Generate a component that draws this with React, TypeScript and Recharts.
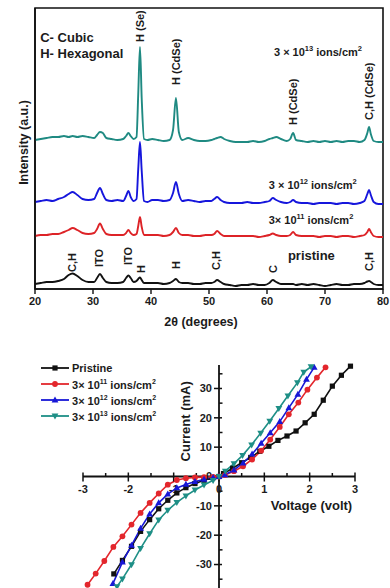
import React from "react";
import {
  Legend,
  Line,
  LineChart,
  ReferenceArea,
  ReferenceDot,
  ReferenceLine,
  XAxis,
  YAxis
} from "recharts";

const FONT = "'Liberation Sans', Arial, Helvetica, sans-serif";
const INK = "#1b1b1b";

// ---------- XRD (top panel) ----------
const twoTheta = [
  20, 21, 22, 23, 24, 25,
  25.8, 26.5, 27.3, 28.2, 29.2, 30.2,
  30.7, 31.2, 31.7, 32.3, 33.2, 34.2,
  35.2, 35.7, 36.1, 36.5, 37.0, 37.5,
  37.8, 38.1, 38.4, 38.8, 39.4, 40.2,
  41.2, 42.2, 43.2, 43.8, 44.3, 44.8,
  45.4, 46.4, 47.4, 48.4, 49.4, 50.4,
  50.9, 51.4, 52.0, 52.6, 53.6, 54.6,
  55.6, 56.6, 57.6, 58.6, 59.6, 60.4,
  61.0, 61.6, 62.4, 63.4, 64.0, 64.5,
  65, 66, 67, 68, 69, 70,
  71, 72, 73, 74, 75, 76,
  76.8, 77.3, 77.6, 77.9, 78.4, 79.2,
  80
];

const ions13 = [
  149, 150, 151, 152, 152, 153,
  152, 153, 152, 153, 152, 151,
  154, 157, 156, 151, 150, 149,
  150, 153, 156, 153, 150, 152,
  195, 242, 190, 150, 149, 150,
  149, 148, 149, 159, 191, 157,
  149, 151, 149, 148, 148, 149,
  150, 151, 152, 150, 148, 147,
  147, 147, 148, 147, 148, 150,
  151, 152, 150, 148, 150, 156,
  149, 148, 147, 148, 147, 148,
  147, 148, 147, 148, 148, 147,
  149, 156, 162, 155, 148, 147,
  147
];

const ions12 = [
  87, 88, 89, 88, 90, 92,
  95, 97, 94, 90, 89, 90,
  96, 101, 95, 89, 88, 89,
  88, 93, 98, 92, 88, 90,
  120, 147, 118, 88, 87, 89,
  89, 88, 89, 96, 107, 95,
  88, 89, 88, 87, 88, 88,
  90, 92, 89, 87, 86, 86,
  86, 87, 86, 86, 87, 88,
  91, 89, 87, 86, 87, 89,
  87, 86, 86, 85, 86, 86,
  86, 85, 86, 86, 85, 86,
  88, 95, 99, 94, 87, 85,
  85
];

const ions11 = [
  53, 54, 54, 55, 55, 57,
  59, 61, 59, 56, 55, 56,
  60, 65.5, 60, 55, 54, 54,
  54, 56, 59, 56, 54, 55,
  63, 72, 62, 54, 54, 54,
  54, 53, 54, 57, 61, 56,
  54, 54, 53, 53, 54, 54,
  55, 58, 55, 53, 53, 53,
  53, 53, 53, 52, 53, 54,
  55.5, 54, 53, 53, 54, 57,
  54, 53, 53, 53, 52, 53,
  53, 52, 53, 53, 52, 53,
  54, 57, 60, 57, 53, 52,
  52
];

const pristineXrd = [
  5, 6, 7, 7, 8, 10,
  14, 15.5, 13, 9, 7, 7,
  11, 15, 11, 7, 6, 6,
  7, 11, 13.5, 11, 7, 8,
  10, 11.5, 9, 6, 6, 6,
  6, 5, 6, 8, 10, 7,
  6, 6, 5, 5, 6, 6,
  7, 9, 7, 5, 4, 3,
  4, 4, 5, 4, 4, 6,
  9, 7, 5, 5, 5, 5,
  4, 5, 4, 5, 4, 3,
  4, 5, 4, 4, 5, 5,
  6, 7.5, 8, 7, 5, 4,
  4
];

const xrdTicks = [20, 30, 40, 50, 60, 70, 80];

// peak assignments: 2θ position, intensity level where the text starts
const peakTags = [
  { at: 38.1, level: 247, text: "H (Se)" },
  { at: 44.3, level: 204, text: "H (CdSe)" },
  { at: 64.5, level: 164, text: "H (CdSe)" },
  { at: 77.6, level: 169, text: "C,H (CdSe)" },
  { at: 26.4, level: 17, text: "C,H" },
  { at: 31.1, level: 22, text: "ITO" },
  { at: 36.1, level: 24, text: "ITO" },
  { at: 38.3, level: 16, text: "H" },
  { at: 44.3, level: 20, text: "H" },
  { at: 51.3, level: 19, text: "C,H" },
  { at: 61.0, level: 16, text: "C" },
  { at: 77.6, level: 18, text: "C,H" }
];

const xrdRows = twoTheta.map((t, k) => ({
  t,
  pristine: pristineXrd[k],
  i11: ions11[k],
  i12: ions12[k],
  i13: ions13[k]
}));

// ---------- I-V (bottom panel) ----------
const pristineV = [-2.32, -2.13, -1.93, -1.73, -1.53, -1.33, -1.13, -0.93, -0.73, -0.53, -0.33, -0.13, 0, 0.1, 0.3, 0.5, 0.7, 0.9, 1.1, 1.3, 1.5, 1.7, 1.9, 2.1, 2.3, 2.5, 2.7, 2.9];
const pristineI = [-33.2, -28.6, -23.8, -18.7, -14.7, -11.0, -8.1, -5.6, -3.8, -2.4, -1.3, -0.4, 0, 1.0, 2.8, 4.7, 6.5, 8.6, 10.3, 12.3, 13.8, 15.5, 18.3, 21.2, 26.0, 30.8, 34.5, 37.6];

const e11V = [-2.9, -2.72, -2.53, -2.33, -2.13, -1.93, -1.73, -1.53, -1.33, -1.13, -0.93, -0.73, -0.53, -0.33, -0.13, 0, 0.13, 0.33, 0.53, 0.73, 0.93, 1.13, 1.34, 1.54, 1.75, 1.95, 2.16, 2.35];
const e11I = [-36.9, -33.1, -28.8, -24.0, -20.4, -16.4, -12.4, -9.0, -5.8, -2.8, -1.2, -0.6, -0.3, -0.2, -0.1, 0, 0.5, 1.8, 3.5, 5.8, 8.8, 12.6, 16.9, 21.2, 25.2, 29.6, 33.7, 37.2];

const e12V = [-2.34, -2.13, -1.93, -1.73, -1.53, -1.33, -1.13, -0.93, -0.73, -0.53, -0.33, -0.13, 0, 0.13, 0.33, 0.53, 0.73, 0.93, 1.13, 1.34, 1.54, 1.74, 1.93, 2.1];
const e12I = [-36.5, -29.2, -23.5, -17.7, -12.8, -9.0, -6.0, -3.9, -2.7, -1.7, -1.0, -0.4, 0, 0.6, 2.2, 4.6, 7.6, 11.3, 14.9, 18.7, 23.4, 28.0, 33.1, 37.2];

const e13V = [-2.25, -2.13, -1.93, -1.73, -1.53, -1.33, -1.13, -0.93, -0.73, -0.53, -0.33, -0.13, 0, 0.14, 0.33, 0.52, 0.72, 0.92, 1.12, 1.32, 1.52, 1.73, 1.87, 2.03];
const e13I = [-37.5, -34.9, -30.0, -24.5, -19.5, -14.8, -11.5, -8.8, -6.6, -4.6, -2.9, -1.3, 0, 1.8, 4.4, 7.2, 10.8, 14.8, 18.9, 23.2, 27.5, 32.0, 35.6, 37.4];

const ivXTicks = [-3, -2, -1, 0, 1, 2, 3];
const ivXMinor = [-2.5, -1.5, -0.5, 0.5, 1.5, 2.5];
const ivYTicks = [-30, -20, -10, 10, 20, 30];
const ivYMinor = [-35, -25, -15, -5, 5, 15, 25, 35];
const ivYLabels = [-30, -20, -10, 0, 10, 20, 30];

const toPoints = (vs: number[], is: number[]) => vs.map((v, k) => ({ v, i: is[k] }));

type Shape = "square" | "circle" | "up" | "down";
const ivSeries: { key: string; exp: string | null; color: string; shape: Shape; data: { v: number; i: number }[] }[] = [
  { key: "Pristine", exp: null, color: "#111111", shape: "square", data: toPoints(pristineV, pristineI) },
  { key: "3e11", exp: "11", color: "#e3262c", shape: "circle", data: toPoints(e11V, e11I) },
  { key: "3e12", exp: "12", color: "#1717d6", shape: "up", data: toPoints(e12V, e12I) },
  { key: "3e13", exp: "13", color: "#1e8f86", shape: "down", data: toPoints(e13V, e13I) }
];

function Marker({ shape, cx, cy, color }: { shape: Shape; cx: number; cy: number; color: string }) {
  if (shape === "square") return <rect x={cx - 2.6} y={cy - 2.6} width={5.2} height={5.2} fill={color} />;
  if (shape === "circle") return <circle cx={cx} cy={cy} r={2.9} fill={color} />;
  if (shape === "up")
    return <polygon points={`${cx},${cy - 3.6} ${cx - 3.4},${cy + 2.4} ${cx + 3.4},${cy + 2.4}`} fill={color} />;
  return <polygon points={`${cx},${cy + 3.6} ${cx - 3.4},${cy - 2.4} ${cx + 3.4},${cy - 2.4}`} fill={color} />;
}

const textStyle = { fontFamily: FONT, fontWeight: 700, fill: INK } as const;

function Dose({ exp, tight }: { exp: string; tight?: boolean }) {
  return (
    <>
      {tight ? "3\u00d7 10" : "3 \u00d7 10"}
      <tspan dy={-5} fontSize={7.5}>{exp}</tspan>
      <tspan dy={5}> ions/cm</tspan>
      <tspan dy={-5} fontSize={7.5}>2</tspan>
    </>
  );
}

const rotatedTag = (text: string) => (p: any) => (
  <text
    x={p.cx}
    y={p.cy}
    dy="0.36em"
    transform={`rotate(-90 ${p.cx} ${p.cy})`}
    fontSize={11}
    {...textStyle}
  >
    {text}
  </text>
);

const flatText = (content: React.ReactNode, size: number, anchor: "start" | "middle" | "end" = "start") => (p: any) => (
  <text x={p.cx} y={p.cy} fontSize={size} textAnchor={anchor} {...textStyle}>
    {content}
  </text>
);

function XrdChart() {
  return (
    <LineChart width={390} height={330} data={xrdRows} margin={{ top: 8, right: 7, left: 0, bottom: 0 }}>
      <XAxis
        dataKey="t"
        type="number"
        domain={[20, 80]}
        ticks={xrdTicks}
        height={41}
        axisLine={{ stroke: "#111", strokeWidth: 1.6 }}
        tickLine={{ stroke: "#111", strokeWidth: 1.4 }}
        tickSize={5}
        tickMargin={3}
        tick={{ fontSize: 11, fontFamily: FONT, fontWeight: 700, fill: INK }}
        label={{ value: "2\u03b8 (degrees)", position: "insideBottom", offset: 4, dx: -8, style: { fontSize: 12.5, fontFamily: FONT, fontWeight: 700, fill: INK } }}
      />
      <YAxis
        type="number"
        domain={[0, 281]}
        width={35}
        tick={false}
        tickLine={false}
        axisLine={{ stroke: "#111", strokeWidth: 1.6 }}
        label={(props: any) => {
          const vb = props.viewBox;
          const cx = vb.x + vb.width - 11;
          const cy = vb.y + vb.height / 2 - 6;
          return (
            <text x={cx} y={cy} textAnchor="middle" dy="0.35em" transform={`rotate(-90 ${cx} ${cy})`} fontSize={12.5} fontFamily={FONT} fontWeight={600} fill={INK}>
              Intensity (a.u.)
            </text>
          );
        }}
      />
      <ReferenceArea x1={20} x2={80} y1={0} y2={281} fill="none" stroke="#111" strokeWidth={1.6} ifOverflow="extendDomain" />
      <Line type="monotone" dataKey="pristine" stroke="#111111" strokeWidth={1.9} dot={false} isAnimationActive={false} />
      <Line type="monotone" dataKey="i11" stroke="#dd2327" strokeWidth={1.9} dot={false} isAnimationActive={false} />
      <Line type="monotone" dataKey="i12" stroke="#1616dc" strokeWidth={1.9} dot={false} isAnimationActive={false} />
      <Line type="monotone" dataKey="i13" stroke="#1f8a82" strokeWidth={1.9} dot={false} isAnimationActive={false} />
      {peakTags.map((tag, k) => (
        <ReferenceDot key={`tag-${k}`} x={tag.at} y={tag.level} r={0} shape={rotatedTag(tag.text)} />
      ))}
      <ReferenceDot x={20.9} y={247} r={0} shape={flatText("C- Cubic", 13)} />
      <ReferenceDot x={20.9} y={231} r={0} shape={flatText("H- Hexagonal", 13)} />
      <ReferenceDot x={61.2} y={233} r={0} shape={flatText(<Dose exp="13" />, 11)} />
      <ReferenceDot x={60.3} y={100} r={0} shape={flatText(<Dose exp="12" />, 11)} />
      <ReferenceDot x={60.3} y={65} r={0} shape={flatText(<Dose exp="11" tight />, 11)} />
      <ReferenceDot x={63.6} y={29} r={0} shape={flatText("pristine", 13)} />
    </LineChart>
  );
}

const tickMark = (dx1: number, dy1: number, dx2: number, dy2: number) => (p: any) => (
  <line x1={p.cx + dx1} y1={p.cy + dy1} x2={p.cx + dx2} y2={p.cy + dy2} stroke="#111" strokeWidth={1.5} />
);

function IvLegend() {
  return (
    <div style={{ fontFamily: FONT, fontWeight: 700, fontSize: 11, color: INK }}>
      {ivSeries.map((s) => (
        <div key={s.key} style={{ display: "flex", alignItems: "center", height: 16 }}>
          <svg width={30} height={10} style={{ marginRight: 2 }}>
            <line x1={1} y1={5} x2={29} y2={5} stroke={s.color} strokeWidth={1.8} />
            <Marker shape={s.shape} cx={15} cy={5} color={s.color} />
          </svg>
          {s.exp === null ? (
            <span>Pristine</span>
          ) : (
            <span>
              3{"\u00d7"} 10<sup style={{ fontSize: 7, verticalAlign: 5 }}>{s.exp}</sup> ions/cm
              <sup style={{ fontSize: 7, verticalAlign: 5 }}>2</sup>
            </span>
          )}
        </div>
      ))}
    </div>
  );
}

function IvChart() {
  return (
    <LineChart width={390} height={258} margin={{ top: 35, right: 35, left: 83, bottom: 0 }}>
      <XAxis dataKey="v" type="number" domain={[-3, 3]} hide />
      <YAxis dataKey="i" type="number" domain={[-38, 38]} hide />
      <ReferenceLine y={0} stroke="#111" strokeWidth={1.8} />
      <ReferenceLine x={0} stroke="#111" strokeWidth={1.8} />
      {ivXTicks.map((v) => (
        <ReferenceDot key={`xt-${v}`} x={v} y={0} r={0} shape={tickMark(0, -4, 0, 5)} />
      ))}
      {ivXMinor.map((v) => (
        <ReferenceDot key={`xm-${v}`} x={v} y={0} r={0} shape={tickMark(0, -3.5, 0, 0)} />
      ))}
      {ivYTicks.map((i) => (
        <ReferenceDot key={`yt-${i}`} x={0} y={i} r={0} shape={tickMark(-5, 0, 3, 0)} />
      ))}
      {ivYMinor.map((i) => (
        <ReferenceDot key={`ym-${i}`} x={0} y={i} r={0} shape={tickMark(0, 0, 3.5, 0)} />
      ))}
      {ivXTicks.map((v) => (
        <ReferenceDot
          key={`xl-${v}`}
          x={v}
          y={0}
          r={0}
          shape={(p: any) => (
            <text x={p.cx} y={p.cy + 16} textAnchor="middle" fontSize={11} {...textStyle}>
              {v}
            </text>
          )}
        />
      ))}
      {ivYLabels.map((i) => (
        <ReferenceDot
          key={`yl-${i}`}
          x={0}
          y={i}
          r={0}
          shape={(p: any) => (
            <text x={p.cx - 7} y={p.cy} dy="0.36em" textAnchor="end" fontSize={11} {...textStyle}>
              {i}
            </text>
          )}
        />
      ))}
      <ReferenceDot
        x={-0.74}
        y={18.8}
        r={0}
        shape={(p: any) => (
          <text x={p.cx} y={p.cy} dy="0.36em" textAnchor="middle" transform={`rotate(-90 ${p.cx} ${p.cy})`} fontSize={13} {...textStyle}>
            Current (mA)
          </text>
        )}
      />
      <ReferenceDot x={2.04} y={-9.9} r={0} shape={(p: any) => (
        <text x={p.cx} y={p.cy} dy="0.36em" textAnchor="middle" fontSize={13} {...textStyle}>
          Voltage (volt)
        </text>
      )} />
      {ivSeries.map((s) => (
        <Line
          key={s.key}
          name={s.key}
          data={s.data}
          dataKey="i"
          type="linear"
          stroke={s.color}
          strokeWidth={1.6}
          isAnimationActive={false}
          dot={(p: any) => <Marker key={`${s.key}-${p.index}`} shape={s.shape} cx={p.cx} cy={p.cy} color={s.color} />}
        />
      ))}
      <Legend
        layout="vertical"
        align="center"
        verticalAlign="middle"
        content={() => <IvLegend />}
        wrapperStyle={{ position: "absolute", left: 40, top: 30, width: 200, height: 70 }}
      />
    </LineChart>
  );
}

export default function App() {
  return (
    <div style={{ position: "absolute", left: 0, top: 0, width: 390, height: 588, overflow: "hidden", background: "#fff" }}>
      <div style={{ position: "absolute", left: 0, top: 0 }}>
        <XrdChart />
      </div>
      <div style={{ position: "absolute", left: 0, top: 330 }}>
        <IvChart />
      </div>
    </div>
  );
}
